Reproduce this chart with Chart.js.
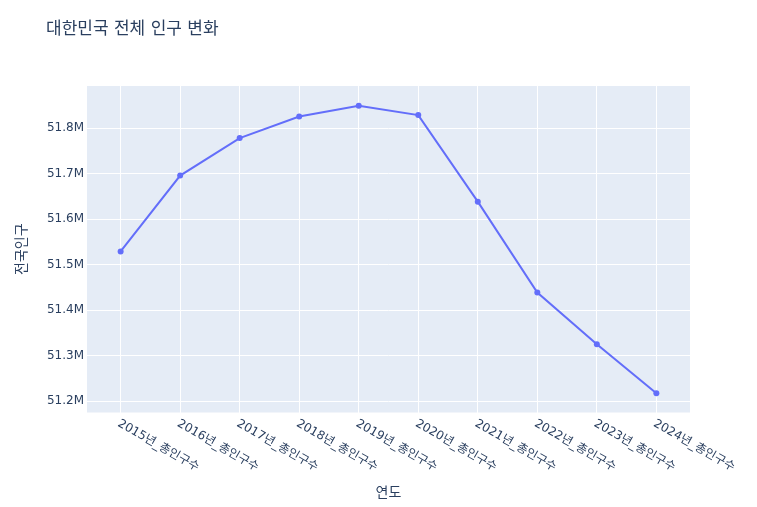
<!DOCTYPE html>
<html>
<head>
<meta charset="utf-8">
<script src="https://cdn.jsdelivr.net/npm/chart.js@4"></script>
<style>
  html, body { margin: 0; padding: 0; background: #fff; }
  #wrap { width: 757px; height: 507px; }
</style>
</head>
<body>
<div id="wrap"><canvas id="popChart"></canvas></div>
<script>
let years = ["2015년_총인구수", "2016년_총인구수", "2017년_총인구수", "2018년_총인구수", "2019년_총인구수",
  "2020년_총인구수", "2021년_총인구수", "2022년_총인구수", "2023년_총인구수", "2024년_총인구수"];
let population = [51529338, 51696216, 51778544, 51826059, 51849861,
  51829136, 51638809, 51439038, 51325329, 51217221];
let yTicks = [51200000, 51300000, 51400000, 51500000, 51600000, 51700000, 51800000];

let chartTitle = "대한민국 전체 인구 변화";
let xTitle = "연도";
let yTitle = "전국인구";

const FONT = '"DejaVu Sans", "Noto Sans CJK KR", sans-serif';
const TEXT = "#2a3f5f";

let points = [];
for (let i = 0; i < population.length; i++) {
  points.push({ x: i, y: population[i] });
}

// titles and slanted x labels, plotly style
const textPlugin = {
  id: "textPlugin",
  beforeDraw(chart) {
    const c = chart.ctx;
    const area = chart.chartArea;
    c.save();
    c.fillStyle = "#e5ecf6";
    c.fillRect(area.left, area.top, area.right - area.left, area.bottom - area.top);
    c.restore();
  },
  afterDraw(chart) {
    const c = chart.ctx;
    const area = chart.chartArea;
    const xs = chart.scales.x;
    c.save();
    c.fillStyle = TEXT;

    c.font = "17px " + FONT;
    c.textAlign = "left";
    c.textBaseline = "middle";
    c.fillText(chartTitle, 46, 30);

    c.font = "12px " + FONT;
    for (let i = 0; i < years.length; i++) {
      const px = xs.getPixelForValue(i);
      c.save();
      c.translate(px + 1, area.bottom + 5);
      c.rotate(Math.PI / 6);
      c.textAlign = "left";
      c.textBaseline = "top";
      c.fillText(years[i], 0, 0);
      c.restore();
    }

    c.font = "14px " + FONT;
    c.textAlign = "center";
    c.textBaseline = "middle";
    c.fillText(xTitle, (area.left + area.right) / 2, 493);

    c.save();
    c.translate(22, (area.top + area.bottom) / 2);
    c.rotate(-Math.PI / 2);
    c.fillText(yTitle, 0, 0);
    c.restore();

    c.restore();
  },
};

let ctx = document.getElementById("popChart").getContext("2d");
let popChart = new Chart(ctx, {
  type: "line",
  data: {
    datasets: [
      {
        label: "",
        data: points,
        borderColor: "#636efa",
        backgroundColor: "#636efa",
        borderWidth: 2,
        tension: 0,
        pointRadius: 3,
        pointBorderWidth: 0,
        pointBackgroundColor: "#636efa",
        clip: false,
      },
    ],
  },
  options: {
    responsive: true,
    maintainAspectRatio: false,
    animation: false,
    devicePixelRatio: 1,
    layout: {
      padding: { left: 0, top: 86, right: 67, bottom: 0 },
    },
    plugins: {
      legend: { display: false },
      title: { display: false },
      tooltip: { enabled: false },
    },
    scales: {
      x: {
        type: "linear",
        min: -0.565,
        max: 9.565,
        afterBuildTicks: (scale) => {
          scale.ticks = years.map((_, i) => ({ value: i }));
        },
        afterFit: (scale) => {
          scale.height = 94.5;
        },
        grid: { color: "#ffffff", lineWidth: 1, drawTicks: false },
        border: { display: false },
        ticks: { display: false },
      },
      y: {
        min: 51175100,
        max: 51893100,
        afterBuildTicks: (scale) => {
          scale.ticks = yTicks.map((v) => ({ value: v }));
        },
        afterFit: (scale) => {
          scale.width = 87;
        },
        grid: { color: "#ffffff", lineWidth: 1, drawTicks: false },
        border: { display: false },
        ticks: {
          padding: 3,
          color: TEXT,
          font: { family: FONT, size: 12 },
          callback: (v) => (v / 1000000).toFixed(1) + "M",
        },
      },
    },
  },
  plugins: [textPlugin],
});
</script>
</body>
</html>
